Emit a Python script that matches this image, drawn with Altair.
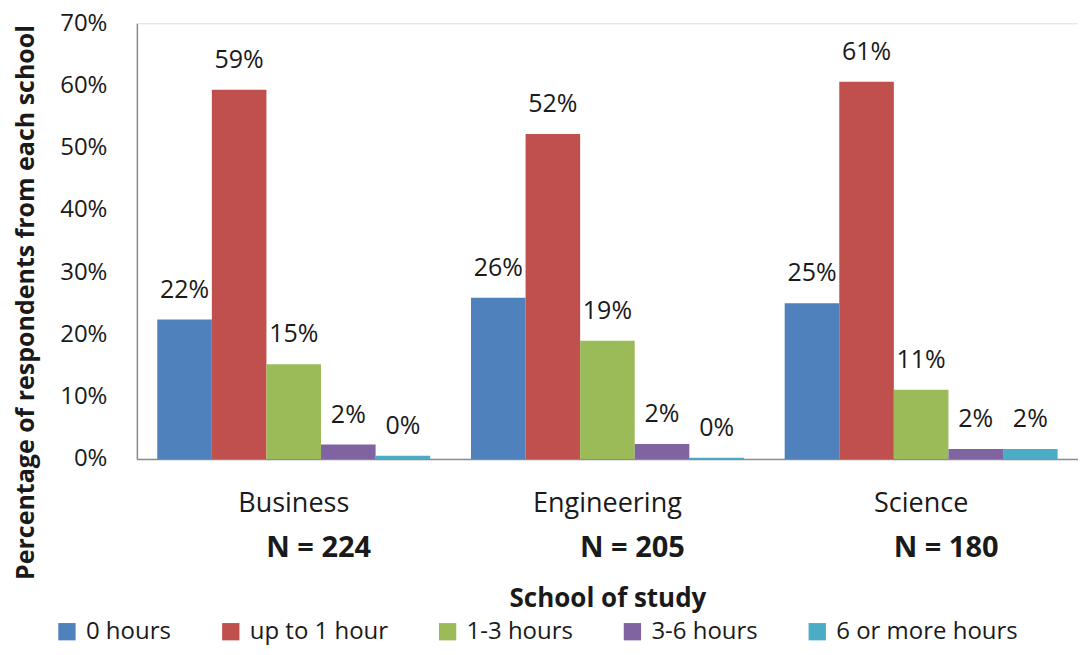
import altair as alt
import pandas as pd

schools = ["Business", "Engineering", "Science"]
n_labels = ["N = 224", "N = 205", "N = 180"]
categories = ["0 hours", "up to 1 hour", "1-3 hours", "3-6 hours", "6 or more hours"]
business = [22.4, 59.3, 15.2, 2.3, 0.5]
engineering = [25.9, 52.2, 19.0, 2.4, 0.2]
science = [25.0, 60.6, 11.1, 1.6, 1.6]
colors = ["#4F81BD", "#C0504D", "#9BBB59", "#8064A2", "#4BACC6"]

rows = []
for s, vals in zip(schools, [business, engineering, science]):
    for c, v in zip(categories, vals):
        rows.append({"school": s, "cat": c, "value": v / 100.0, "label": f"{round(v)}%"})
df = pd.DataFrame(rows)
df_n = pd.DataFrame({"school": schools, "n": n_labels})

W, H = 942, 436
FONT = "Open Sans"
TXT = "#1a1a1a"

xenc = alt.X(
    "school:N",
    sort=schools,
    scale=alt.Scale(paddingInner=0.13, paddingOuter=0.065),
    axis=alt.Axis(
        title="School of study",
        titleFontWeight="bold",
        titleFontSize=26,
        titleFont=FONT,
        titleColor=TXT,
        titlePadding=69,
        labelFont=FONT,
        labelFontSize=27,
        labelColor=TXT,
        labelPadding=32,
        labelAngle=0,
        ticks=False,
        tickSize=0,
        domainColor="#8c8c8c",
        domainWidth=1.5,
    ),
)

yenc = alt.Y(
    "value:Q",
    scale=alt.Scale(domain=[0, 0.7], nice=False),
    axis=alt.Axis(
        format=".0%",
        values=[0, 0.1, 0.2, 0.3, 0.4, 0.5, 0.6, 0.7],
        grid=False,
        ticks=False,
        tickSize=0,
        domainColor="#8c8c8c",
        domainWidth=1.5,
        labelFont=FONT,
        labelFontSize=24,
        labelColor=TXT,
        labelPadding=30,
        title="Percentage of respondents from each school",
        titleFont=FONT,
        titleFontSize=25,
        titleFontWeight="bold",
        titleColor=TXT,
        titleX=-98,
        titleY=279,
    ),
)

base = alt.Chart(df).encode(
    x=xenc,
    xOffset=alt.XOffset("cat:N", sort=categories, scale=alt.Scale(paddingInner=0, paddingOuter=0)),
    y=yenc,
)

bars = base.mark_bar().encode(
    color=alt.Color(
        "cat:N",
        sort=categories,
        scale=alt.Scale(domain=categories, range=colors),
        legend=alt.Legend(
            title=None,
            orient="none",
            direction="horizontal",
            columns=5,
            legendX=-82,
            legendY=597,
            symbolType="square",
            symbolSize=300,
            symbolStrokeWidth=0,
            labelFont=FONT,
            labelFontSize=24,
            labelColor=TXT,
            labelOffset=7,
            columnPadding=47,
            labelLimit=400,
        ),
    )
)

labels = base.mark_text(
    baseline="alphabetic", dy=-22, font=FONT, fontSize=25, color=TXT
).encode(text="label:N")

nlab = alt.Chart(df_n).mark_text(
    font=FONT, fontSize=29, fontWeight="bold", color=TXT, baseline="middle", dx=25
).encode(
    x=alt.X("school:N", sort=schools),
    y=alt.value(H + 89),
    text="n:N",
)

chart = (
    alt.layer(bars, labels, nlab)
    .properties(
        width=W,
        height=H,
        autosize=alt.AutoSizeParams(type="none"),
        padding={"left": 129, "top": 15, "right": 0, "bottom": 188},
    )
    .configure_view(stroke=None)
    .configure(background="white")
)

chart.save("out.html", embed_options={"renderer": "svg", "actions": False})
